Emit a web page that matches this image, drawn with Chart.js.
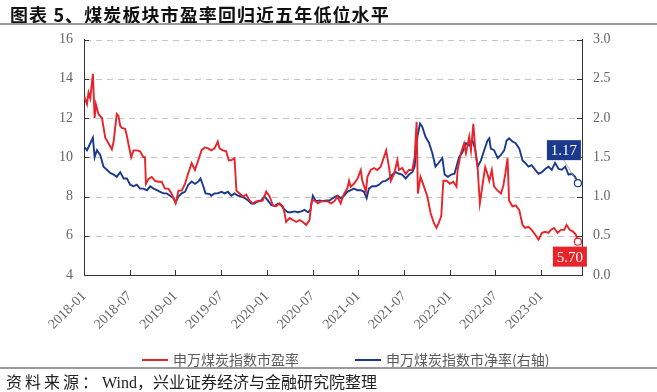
<!DOCTYPE html>
<html>
<head>
<meta charset="utf-8">
<script src="https://cdn.jsdelivr.net/npm/chart.js@4"></script>
<style>
  html, body { margin:0; padding:0; background:#fff; }
  #wrap { position:relative; width:657px; height:392px; overflow:hidden; background:#fff; }
  #chartBox { position:absolute; left:0; top:0; width:657px; height:392px; }
  .title { position:absolute; left:10px; top:1px; font:bold 18px "Noto Sans CJK SC", sans-serif; letter-spacing:1.1px; color:#111; white-space:nowrap; }
  .rule { position:absolute; left:0; width:657px; background:#9a9a9a; }
  .legend { position:absolute; top:349px; font:14px "Noto Sans CJK SC", sans-serif; color:#5a5a5a; white-space:nowrap; }
  .legend i { display:inline-block; width:26px; height:2px; vertical-align:middle; margin-right:5px; position:relative; top:-1px; }
  .source { position:absolute; left:6px; top:369px; font:16px "Liberation Serif", "Noto Sans CJK SC", serif; color:#222; white-space:nowrap; }
  .source span { letter-spacing:3px; margin-right:1px; }
</style>
</head>
<body>
<div id="wrap">
  <div id="chartBox"><canvas id="c"></canvas></div>
  <div class="title">图表 5、煤炭板块市盈率回归近五年低位水平</div>
  <div class="rule" style="top:23px;height:2px"></div>
  <div class="legend" style="left:142px"><i style="background:#e8232a"></i>申万煤炭指数市盈率</div>
  <div class="legend" style="left:355px"><i style="background:#1b3a8c"></i>申万煤炭指数市净率(右轴)</div>
  <div class="rule" style="top:367px;height:1.5px"></div>
  <div class="source"><span>资料来源：</span>Wind，兴业证券经济与金融研究院整理</div>
</div>
<script>
// 市盈率 (left axis)
const peDates = [
  "2018-01-02","2018-01-13","2018-01-19","2018-01-26","2018-02-06","2018-02-13","2018-02-18","2018-02-28",
  "2018-03-12","2018-03-25","2018-04-08","2018-04-21","2018-04-28","2018-05-10","2018-05-17","2018-05-24",
  "2018-05-30","2018-06-13","2018-06-20","2018-06-26","2018-07-07","2018-07-16","2018-07-29","2018-08-12",
  "2018-08-25","2018-09-01","2018-09-05","2018-09-15","2018-09-28","2018-10-11","2018-10-24","2018-11-07",
  "2018-11-20","2018-12-03","2018-12-16","2019-01-02","2019-01-13","2019-01-26","2019-02-09","2019-02-22",
  "2019-03-05","2019-03-18","2019-04-01","2019-04-14","2019-04-27","2019-05-10","2019-05-22","2019-06-05",
  "2019-06-18","2019-06-25","2019-07-08","2019-07-21","2019-08-01","2019-08-11","2019-08-24","2019-09-01",
  "2019-09-14","2019-09-27","2019-10-10","2019-10-23","2019-11-06","2019-11-19","2019-12-02","2019-12-15",
  "2019-12-29","2020-01-12","2020-01-25","2020-02-08","2020-02-21","2020-03-04","2020-03-11","2020-03-17",
  "2020-04-01","2020-04-14","2020-04-27","2020-05-10","2020-05-23","2020-06-06","2020-06-19","2020-06-28",
  "2020-07-09","2020-07-22","2020-08-05","2020-08-18","2020-09-01","2020-09-14","2020-09-27","2020-10-09",
  "2020-10-22","2020-11-05","2020-11-18","2020-11-25","2020-12-01","2020-12-14","2020-12-28","2021-01-11",
  "2021-01-17","2021-02-01","2021-02-07","2021-02-20","2021-03-03","2021-03-16","2021-03-29","2021-04-12",
  "2021-04-21","2021-05-02","2021-05-09","2021-05-22","2021-06-05","2021-06-11","2021-06-24","2021-07-08",
  "2021-07-21","2021-08-04","2021-08-13","2021-08-21","2021-08-26","2021-09-06","2021-09-20","2021-10-03",
  "2021-10-16","2021-10-29","2021-11-09","2021-11-18","2021-11-28","2021-12-06","2021-12-19","2022-01-02",
  "2022-01-15","2022-01-28","2022-02-02","2022-02-15","2022-02-28","2022-03-05","2022-03-18","2022-03-25",
  "2022-04-04","2022-04-12","2022-04-21","2022-04-30","2022-05-11","2022-05-21","2022-05-30","2022-06-07",
  "2022-06-17","2022-06-26","2022-07-10","2022-07-23","2022-08-02","2022-08-10","2022-08-19","2022-08-25",
  "2022-09-08","2022-09-21","2022-10-05","2022-10-18","2022-10-28","2022-11-11","2022-11-24","2022-12-08",
  "2022-12-21","2023-01-04","2023-01-17","2023-01-30","2023-02-09","2023-02-22","2023-03-06","2023-03-19",
  "2023-04-02","2023-04-11","2023-04-24","2023-05-08","2023-05-18","2023-05-26"
];
const peValues = [
  13.1,12.7,13.3,13.0,14.25,12.0,12.7,12.2,
  12.0,11.0,10.7,10.4,10.8,12.2,12.1,11.6,
  11.5,11.45,11.1,10.7,10.0,10.35,10.35,10.3,
  10.0,10.0,8.65,8.9,9.0,8.8,8.75,8.75,
  8.4,8.4,8.15,7.65,8.3,8.3,8.65,9.2,
  9.7,9.35,9.85,10.35,10.5,10.45,10.35,10.45,
  10.8,10.45,10.35,10.3,9.85,9.85,9.95,8.3,
  8.15,8.0,8.1,7.8,7.65,7.75,7.75,7.8,
  8.25,8.0,7.55,7.5,7.65,7.5,7.15,6.7,
  6.9,6.8,6.7,6.8,6.7,6.55,6.8,7.8,
  7.8,7.65,7.75,7.75,7.75,7.65,7.75,8.0,
  7.65,8.15,8.4,8.8,8.5,8.65,8.9,9.35,
  8.8,8.25,9.0,9.35,9.45,9.35,9.5,10.0,
  10.35,9.5,8.8,9.15,9.85,9.35,9.45,9.15,
  9.35,9.35,10.0,11.8,8.15,9.0,8.5,8.0,
  7.15,6.65,6.4,6.65,7.0,8.8,8.8,8.65,
  8.75,8.5,9.35,10.2,10.7,10.2,11.05,10.35,
  11.7,10.35,9.5,7.65,8.65,9.5,9.15,8.8,
  9.35,8.5,8.3,8.15,8.55,9.15,9.95,7.8,
  7.5,7.55,7.3,6.55,6.4,6.45,6.3,6.05,
  5.8,6.15,6.2,6.15,6.3,6.4,6.15,6.3,
  6.3,6.55,6.3,6.2,6.05,5.70
];
// 市净率 (right axis)
const pbDates = [
  "2018-01-02","2018-01-13","2018-01-22","2018-02-06","2018-02-13","2018-02-22","2018-03-05","2018-03-18",
  "2018-04-01","2018-04-14","2018-04-28","2018-05-10","2018-05-24","2018-06-07","2018-06-20","2018-07-03",
  "2018-07-16","2018-07-29","2018-08-12","2018-08-25","2018-09-09","2018-09-22","2018-10-05","2018-10-18",
  "2018-11-01","2018-11-14","2018-11-27","2018-12-10","2018-12-23","2019-01-02","2019-01-13","2019-01-26",
  "2019-02-09","2019-02-22","2019-03-05","2019-03-18","2019-04-01","2019-04-10","2019-04-21","2019-04-30",
  "2019-05-17","2019-05-22","2019-06-05","2019-06-18","2019-07-02","2019-07-15","2019-07-28","2019-08-11",
  "2019-08-24","2019-09-07","2019-09-20","2019-10-04","2019-10-17","2019-10-30","2019-11-13","2019-11-26",
  "2019-12-09","2019-12-22","2020-01-05","2020-01-19","2020-02-01","2020-02-15","2020-02-27","2020-03-11",
  "2020-03-24","2020-04-07","2020-04-20","2020-05-03","2020-05-17","2020-05-30","2020-06-13","2020-06-23",
  "2020-07-02","2020-07-15","2020-07-29","2020-08-12","2020-08-25","2020-09-08","2020-09-21","2020-10-09",
  "2020-10-22","2020-11-05","2020-11-18","2020-12-01","2020-12-14","2020-12-28","2021-01-11","2021-01-24",
  "2021-02-04","2021-02-13","2021-02-26","2021-03-10","2021-03-23","2021-04-06","2021-04-19","2021-05-02",
  "2021-05-16","2021-05-29","2021-06-11","2021-06-24","2021-07-08","2021-07-21","2021-08-04","2021-08-13",
  "2021-08-24","2021-09-04","2021-09-13","2021-09-26","2021-10-10","2021-10-23","2021-11-05","2021-11-18",
  "2021-12-02","2021-12-11","2021-12-24","2022-01-07","2022-01-20","2022-02-08","2022-02-21","2022-03-05",
  "2022-03-18","2022-04-01","2022-04-11","2022-04-21","2022-05-04","2022-05-17","2022-05-30","2022-06-07",
  "2022-06-13","2022-06-26","2022-07-10","2022-07-23","2022-08-06","2022-08-15","2022-08-25","2022-09-08",
  "2022-09-21","2022-10-05","2022-10-18","2022-10-28","2022-11-11","2022-11-24","2022-12-08","2022-12-21",
  "2023-01-04","2023-01-17","2023-01-30","2023-02-13","2023-02-26","2023-03-10","2023-03-23","2023-04-06",
  "2023-04-19","2023-05-02","2023-05-15","2023-05-26"
];
const pbValues = [
  1.63,1.59,1.65,1.75,1.50,1.59,1.53,1.38,
  1.34,1.30,1.28,1.25,1.31,1.23,1.23,1.15,
  1.13,1.15,1.10,1.10,1.08,1.13,1.10,1.08,
  1.06,1.04,1.04,1.01,0.98,0.93,1.00,1.04,
  1.06,1.15,1.19,1.16,1.19,1.23,1.13,1.04,
  1.03,1.01,1.04,1.04,1.06,1.04,1.06,1.01,
  1.04,1.01,1.00,0.98,0.95,0.91,0.91,0.94,
  0.95,1.00,0.95,0.89,0.88,0.91,0.89,0.83,
  0.80,0.80,0.81,0.80,0.81,0.83,0.80,0.83,
  1.01,0.94,0.95,0.94,0.95,0.95,0.98,1.01,
  0.98,1.01,1.06,1.08,1.10,1.08,1.08,1.06,
  0.98,1.10,1.13,1.13,1.15,1.19,1.20,1.23,
  1.28,1.31,1.29,1.28,1.23,1.28,1.31,1.38,
  1.76,1.93,1.89,1.76,1.68,1.55,1.38,1.43,
  1.49,1.28,1.25,1.28,1.29,1.50,1.56,1.68,
  1.65,1.71,1.61,1.38,1.46,1.59,1.71,1.74,
  1.61,1.59,1.49,1.53,1.59,1.71,1.74,1.70,
  1.68,1.61,1.46,1.43,1.38,1.40,1.34,1.29,
  1.31,1.35,1.38,1.34,1.43,1.35,1.34,1.38,
  1.28,1.29,1.25,1.17
];
const xTickLabels = ["2018-01","2018-07","2019-01","2019-07","2020-01","2020-07","2021-01","2021-07","2022-01","2022-07","2023-01"];
const xEnd = "2023-06-12";

const RED = "#e8232a", BLUE = "#1b3a8c";

function toMonth(s){
  const p = s.split("-").map(Number);
  return (p[0]-2018)*12 + (p[1]-1) + ((p[2]||1)-1)/30.4;
}
const pePoints = peDates.map((d,i) => ({x: toMonth(d), y: peValues[i]}));
const pbPoints = pbDates.map((d,i) => ({x: toMonth(d), y: pbValues[i]}));

const lastOnly = (n) => (ctx) => ctx.dataIndex === n-1 ? 3.5 : 0;

// dashed grid + inward tick marks, placed from the scales' own ticks
const axisDecor = {
  id: "axisDecor",
  beforeDatasetsDraw(chart){
    const {ctx, chartArea:a, scales} = chart;
    const seg = (x1,y1,x2,y2) => { ctx.beginPath(); ctx.moveTo(x1,y1); ctx.lineTo(x2,y2); ctx.stroke(); };
    const py = (s,v) => Math.round(s.getPixelForValue(v)) + 0.5;
    ctx.save();
    ctx.lineWidth = 1;
    ctx.strokeStyle = "#c4c4c4";
    ctx.setLineDash([6,5]);
    scales.y.ticks.forEach(t => { if(t.value > scales.y.min) seg(a.left+1, py(scales.y,t.value), a.right-1, py(scales.y,t.value)); });
    ctx.setLineDash([]);
    ctx.strokeStyle = "#333";
    scales.y.ticks.forEach(t => seg(a.left, py(scales.y,t.value), a.left+5, py(scales.y,t.value)));
    scales.y1.ticks.forEach(t => seg(a.right-5, py(scales.y1,t.value), a.right, py(scales.y1,t.value)));
    scales.x.ticks.forEach(t => { const px = Math.round(scales.x.getPixelForValue(t.value)) + 0.5; seg(px, a.bottom, px, a.bottom-5); });
    ctx.restore();
  }
};

// boxed value labels at the last point of each series
const endLabels = {
  id: "endLabels",
  afterDatasetsDraw(chart){
    const ctx = chart.ctx;
    const specs = [
      {ds:0, color:RED, dx:-8, dy:15, text: peValues[peValues.length-1].toFixed(2)},
      {ds:1, color:BLUE, dx:-14, dy:-33, text: pbValues[pbValues.length-1].toFixed(2)}
    ];
    ctx.save();
    ctx.font = '15px "Liberation Serif", serif';
    specs.forEach(s => {
      const meta = chart.getDatasetMeta(s.ds);
      const pt = meta.data[meta.data.length-1];
      const cx = pt.x + s.dx, cy = pt.y + s.dy;
      const w = 34, h = 20;
      if(s.dy < 0){
        ctx.strokeStyle = "#999"; ctx.lineWidth = 0.8;
        ctx.beginPath(); ctx.moveTo(cx, cy + h/2); ctx.lineTo(pt.x - 2, pt.y - 3); ctx.stroke();
      }
      ctx.fillStyle = s.color;
      ctx.fillRect(cx - w/2, cy - h/2, w, h);
      ctx.fillStyle = "#fff";
      ctx.textAlign = "center"; ctx.textBaseline = "middle";
      ctx.fillText(s.text, cx, cy + 1);
    });
    ctx.restore();
  }
};

const noGrid = { display:false, drawTicks:false };

new Chart(document.getElementById("c"), {
  type: "line",
  data: {
    datasets: [
      { label:"申万煤炭指数市盈率", data: pePoints, yAxisID:"y", borderColor:RED, borderWidth:1.9,
        pointRadius: lastOnly(pePoints.length), pointBackgroundColor:"#fff", pointBorderColor:RED, pointBorderWidth:1.2, tension:0 },
      { label:"申万煤炭指数市净率(右轴)", data: pbPoints, yAxisID:"y1", borderColor:BLUE, borderWidth:1.9,
        pointRadius: lastOnly(pbPoints.length), pointBackgroundColor:"#fff", pointBorderColor:BLUE, pointBorderWidth:1.2, tension:0 }
    ]
  },
  options: {
    responsive:true, maintainAspectRatio:false, animation:false,
    layout:{ padding:{ top:39.5, bottom:57, left:0, right:0 } },
    plugins:{ legend:{display:false}, tooltip:{enabled:false} },
    scales:{
      x:{
        type:"linear", min:0, max:toMonth(xEnd),
        afterBuildTicks(scale){ scale.ticks = xTickLabels.map(l => ({value: toMonth(l+"-01")})); },
        afterFit(scale){ scale.height = 60; },
        grid: noGrid,
        border:{ display:true, color:"#333", width:1 },
        ticks:{ autoSkip:false, minRotation:45, maxRotation:45, padding:13, color:"#666",
          font:{ family:"Liberation Serif", size:14 },
          callback:(v) => { const i = xTickLabels.findIndex(l => Math.abs(toMonth(l+"-01")-v) < 0.01); return i>=0 ? xTickLabels[i] : ""; } }
      },
      y:{
        position:"left", min:4, max:16,
        afterFit(scale){ scale.width = 84; },
        grid: noGrid,
        border:{ display:true, color:"#333", width:1 },
        ticks:{ stepSize:2, padding:11, color:"#666", font:{ family:"Liberation Serif", size:14 } }
      },
      y1:{
        position:"right", min:0, max:3,
        afterFit(scale){ scale.width = 75; },
        grid: noGrid,
        border:{ display:true, color:"#333", width:1 },
        ticks:{ stepSize:0.5, padding:11, color:"#666", font:{ family:"Liberation Serif", size:14 },
          callback:(v) => Number(v).toFixed(1) }
      }
    }
  },
  plugins:[axisDecor, endLabels]
});
</script>
</body>
</html>
